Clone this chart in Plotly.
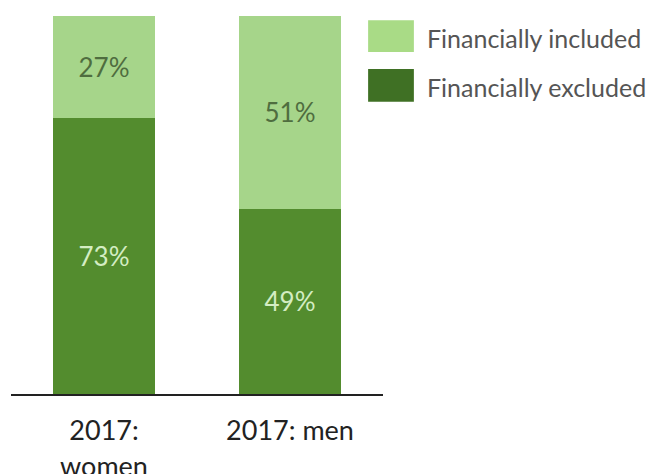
import plotly.graph_objects as go

# Share of adults by financial inclusion status, 2017
categories = ["2017:<br>women", "2017: men"]
excluded = [73, 49]
included = [27, 51]
series_names = ["Financially included", "Financially excluded"]

LIGHT = "#a6d58a"
DARK = "#538c2e"
LEGEND_LIGHT = "#a9db86"
LEGEND_DARK = "#3f7024"
FONT = "Lato"

fig = go.Figure()
fig.add_trace(go.Bar(
    x=categories, y=excluded, name=series_names[1],
    marker=dict(color=DARK, line=dict(width=0)),
    text=[f"{v}%" for v in excluded], textposition="inside",
    insidetextanchor="middle", textangle=0,
    textfont=dict(family=FONT, size=26, color="#d4edc3"),
))
fig.add_trace(go.Bar(
    x=categories, y=included, name=series_names[0],
    marker=dict(color=LIGHT, line=dict(width=0)),
    text=[f"{v}%" for v in included], textposition="inside",
    insidetextanchor="middle", textangle=0,
    textfont=dict(family=FONT, size=26, color="#4f6d3f"),
))

fig.update_layout(
    barmode="stack",
    bargap=0.45,
    width=661, height=474,
    margin=dict(l=11, r=278, t=16, b=80, autoexpand=False),
    paper_bgcolor="white", plot_bgcolor="white",
    showlegend=False,
    uniformtext=dict(mode=False),
    font=dict(family=FONT),
)
fig.update_xaxes(
    range=[-0.5, 1.5], showgrid=False, zeroline=False, automargin=False,
    showline=True, linecolor="#222222", linewidth=2,
    ticks="outside", ticklen=12, tickcolor="rgba(0,0,0,0)",
    tickfont=dict(family=FONT, size=27, color="#222222"),
)
fig.update_yaxes(range=[0, 100], visible=False, automargin=False)

# Legend drawn as swatches with labels at the right of the bars
legend_rows = [(series_names[0], LEGEND_LIGHT, 0.989, 0.905),
               (series_names[1], LEGEND_DARK, 0.860, 0.773)]
for name, color, y1, y0 in legend_rows:
    fig.add_shape(type="rect", xref="paper", yref="paper",
                  x0=0.960, x1=1.083, y0=y0, y1=y1,
                  fillcolor=color, line=dict(width=0))
    fig.add_annotation(xref="paper", yref="paper", x=1.112, y=(y0 + y1) / 2 - 0.005,
                       text=name, showarrow=False, xanchor="left", yanchor="middle",
                       font=dict(family=FONT, size=25, color="#555555"))

fig.write_html("out.html")
